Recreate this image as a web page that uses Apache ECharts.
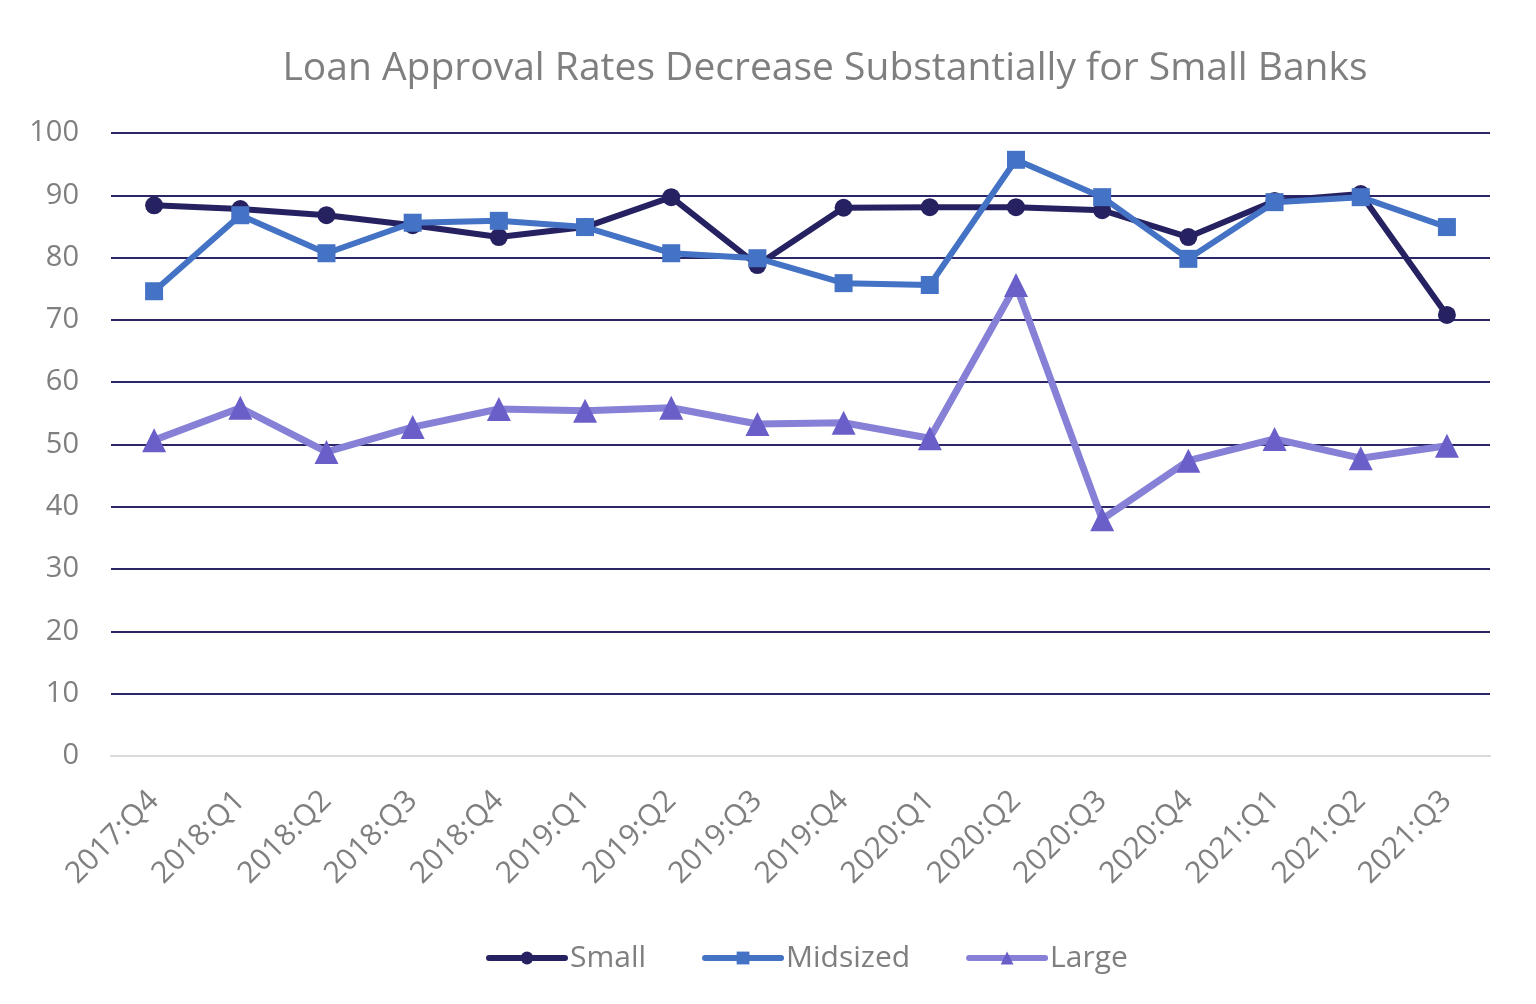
<!DOCTYPE html>
<html><head><meta charset="utf-8">
<script src="https://cdn.jsdelivr.net/npm/echarts@6/dist/echarts.min.js"></script>
<style>html,body{margin:0;padding:0;background:#fff}#c{width:1536px;height:1004px}</style>
</head><body><div id="c"></div>
<script>
const categories = ['2017:Q4','2018:Q1','2018:Q2','2018:Q3','2018:Q4','2019:Q1','2019:Q2','2019:Q3','2019:Q4','2020:Q1','2020:Q2','2020:Q3','2020:Q4','2021:Q1','2021:Q2','2021:Q3'];
const small =    [88.4, 87.8, 86.8, 85.2, 83.3, 84.9, 89.7, 78.8, 88.0, 88.1, 88.1, 87.6, 83.3, 89.1, 90.2, 70.8];
const midsized = [74.6, 86.8, 80.7, 85.6, 85.9, 84.9, 80.7, 79.9, 75.9, 75.6, 95.7, 89.7, 79.8, 88.9, 89.7, 84.9];
const large =    [50.7, 55.9, 48.8, 52.8, 55.7, 55.4, 55.9, 53.3, 53.5, 51.0, 75.6, 38.0, 47.4, 50.9, 47.8, 49.8];
const yTicks = {min: 0, max: 100, interval: 10};

const chart = echarts.init(document.getElementById('c'));
const font = '"Open Sans", sans-serif';
chart.setOption({
  animation: false,
  title: {
    text: 'Loan Approval Rates Decrease Substantially for Small Banks',
    left: 820, top: 44, textAlign: 'center',
    textStyle: {fontFamily: '"Open Sans", sans-serif', fontSize: 39, fontWeight: 'normal', color: '#7f7f7f'}
  },
  legend: {
    bottom: 26, left: 481, itemGap: 56, itemWidth: 76, itemHeight: 16,
    textStyle: {fontFamily: font, fontSize: 30, color: '#7f7f7f', padding: [0,0,0,0]},
    lineStyle: {width: 6, cap: 'round'},
    data: ['Small', 'Midsized', 'Large']
  },
  grid: {left: 111, right: 46, top: 133, bottom: 248},
  xAxis: {
    type: 'category', data: categories, boundaryGap: true,
    axisLine: {show: true, lineStyle: {color: '#d9d9d9', width: 2}},
    axisTick: {show: false},
    axisLabel: {rotate: 45, fontFamily: font, fontSize: 30, color: '#7f7f7f', margin: 40, interval: 0}
  },
  yAxis: {
    type: 'value', min: yTicks.min, max: yTicks.max, interval: yTicks.interval,
    axisLine: {show: false}, axisTick: {show: false},
    axisLabel: {fontFamily: font, fontSize: 29, color: '#7f7f7f', margin: 32},
    splitLine: {lineStyle: {color: '#2b2766', width: 2}}
  },
  series: [
    {name: 'Small', type: 'line', data: small, symbol: 'circle', symbolSize: 18,
     lineStyle: {color: '#262262', width: 6}, itemStyle: {color: '#262262'}, z: 3},
    {name: 'Midsized', type: 'line', data: midsized, symbol: 'rect', symbolSize: 18,
     lineStyle: {color: '#4472c4', width: 6}, itemStyle: {color: '#4472c4'}, z: 4},
    {name: 'Large', type: 'line', data: large, symbol: 'triangle', symbolSize: 24,
     lineStyle: {color: '#8680d6', width: 7}, itemStyle: {color: '#6a5fc9'}, z: 2}
  ]
});
</script></body></html>
